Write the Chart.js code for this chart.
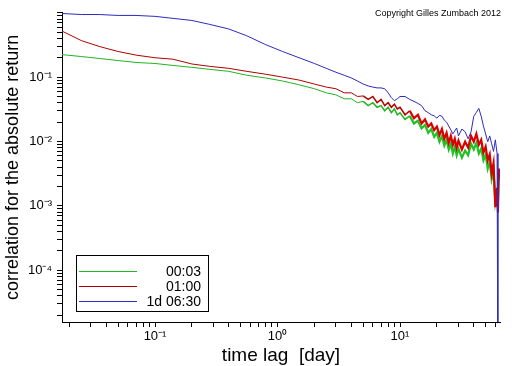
<!DOCTYPE html>
<html>
<head>
<meta charset="utf-8">
<script src="https://cdn.jsdelivr.net/npm/chart.js@4.4.0/dist/chart.umd.min.js"></script>
<style>
  html, body { margin:0; padding:0; background:#fff; }
  #wrap { width:512px; height:366px; }
</style>
</head>
<body>
<div id="wrap"><canvas id="c" width="512" height="366"></canvas></div>
<script>
// time lags in days (shared by the three series)
const lags = [0.0174, 0.025, 0.035, 0.05, 0.07, 0.1, 0.14, 0.2, 0.28, 0.4, 0.56, 0.8, 1.1, 1.5, 2, 2.5,
  3, 3.5, 4, 4.5, 5, 5.5, 6, 6.5, 7, 7.5, 8, 8.5, 9, 9.5, 10,
  11, 12, 13, 14, 15, 16, 17, 18, 19, 20,
  21, 22, 23, 24, 25, 26, 27, 28, 29, 30,
  32, 34, 36, 38, 40, 42, 44, 46, 48, 50, 52, 54, 56, 58, 60, 62, 63, 64, 65];

// correlation of |r| for the three return horizons
const corr0003 = [0.224, 0.209, 0.195, 0.181, 0.169, 0.163, 0.152, 0.142, 0.132, 0.123, 0.107, 0.097, 0.087, 0.076, 0.066, 0.057,
  0.053, 0.046, 0.046, 0.040, 0.042, 0.036, 0.040, 0.034, 0.036, 0.030, 0.034, 0.028, 0.032, 0.026, 0.028,
  0.022, 0.025, 0.019, 0.021, 0.016, 0.018, 0.0136, 0.0156, 0.0118, 0.0136,
  0.0099, 0.0122, 0.0086, 0.0106, 0.0075, 0.0092, 0.0065, 0.0083, 0.0061, 0.0077,
  0.0056, 0.0072, 0.0061, 0.0092, 0.0075, 0.0095, 0.0065, 0.0077, 0.0051, 0.0063, 0.0038, 0.0049, 0.0026, 0.0035, 0.00113, 0.0016, 0.00113, 0.0032, 0.0024];
const corr0100 = [0.52, 0.37, 0.30, 0.25, 0.22, 0.20, 0.19, 0.16, 0.147, 0.137, 0.123, 0.111, 0.100, 0.090, 0.078, 0.070,
  0.066, 0.057, 0.057, 0.050, 0.051, 0.045, 0.050, 0.040, 0.045, 0.036, 0.040, 0.034, 0.038, 0.032, 0.034,
  0.026, 0.030, 0.023, 0.026, 0.019, 0.022, 0.017, 0.019, 0.015, 0.017,
  0.0126, 0.0156, 0.0110, 0.0136, 0.0095, 0.0122, 0.0089, 0.0110, 0.0080, 0.0103,
  0.0075, 0.0099, 0.0080, 0.0122, 0.0099, 0.0131, 0.0089, 0.0106, 0.0067, 0.0083, 0.0051, 0.0063, 0.0032, 0.0046, 0.00095, 0.0019, 0.00079, 0.0038, 0.0027];
const corr1d0630 = [0.975, 0.94, 0.94, 0.91, 0.91, 0.88, 0.82, 0.76, 0.66, 0.56, 0.44, 0.32, 0.25, 0.20, 0.163, 0.137,
  0.119, 0.107, 0.097, 0.087, 0.078, 0.073, 0.070, 0.068, 0.068, 0.066, 0.057, 0.048, 0.043, 0.046, 0.050,
  0.050, 0.045, 0.042, 0.039, 0.036, 0.030, 0.028, 0.026, 0.025, 0.023,
  0.0255, 0.0246, 0.0214, 0.0199, 0.0173, 0.0151, 0.0131, 0.0146, 0.0162, 0.0122,
  0.0156, 0.0141, 0.0110, 0.0141, 0.0246, 0.0283, 0.0326, 0.0246, 0.0173, 0.0131, 0.0099, 0.0122, 0.0092, 0.0070, 0.0106, 0.0065, 0.000001, null, null];

const seriesLabels = ['00:03', '01:00', '1d 06:30'];
const seriesColors = ['#22b422', '#b00000', '#2c2cbe'];
const noisyColors = ['#22c022', '#d80000', '#2c2cbe'];

const xMajor = [0.1, 1, 10];
const xTickLabels = ['10\u207B\u00B9', '10\u2070', '10\u00B9'];
const yMajor = [1e-4, 1e-3, 1e-2, 1e-1];
const yTickLabels = ['10\u207B\u2074', '10\u207B\u00B3', '10\u207B\u00B2', '10\u207B\u00B9'];

const xRange = [0.0174, 65.5];
const yRange = [1.56e-5, 1.0];

const FONT = '"Liberation Sans", Arial, sans-serif';

// 1..9 x 10^n positions for the log ticks
function logTicks(min, max){
  const out = [];
  for(let e = Math.floor(Math.log10(min)); e <= Math.ceil(Math.log10(max)); e++){
    for(let k = 1; k <= 9; k++){
      const v = k * Math.pow(10, e);
      if(v >= min*0.9999 && v <= max*1.0001) out.push(v);
    }
  }
  return out;
}
function labelFor(majors, labels){
  return function(value){
    const i = majors.findIndex(m => Math.abs(m - value) / m < 1e-6);
    return i >= 0 ? labels[i] : '';
  };
}

const series = [corr0003, corr0100, corr1d0630];
const datasets = series.map((arr, i) => ({
  label: seriesLabels[i],
  data: lags.map((x, j) => ({ x, y: arr[j] })),
  borderColor: seriesColors[i],
  borderWidth: 1,
  pointRadius: 0,
  tension: 0,
  fill: false,
  spanGaps: false,
  order: 3 - i,
  // the short-horizon curves get a dense noisy band at large lags
  segment: i < 2 ? {
    borderWidth: c => c.p0.parsed.x >= 12 ? 2.2 : (c.p0.parsed.x >= 5 ? 1.5 : 1),
    borderColor: c => c.p0.parsed.x >= 12 ? noisyColors[i] : seriesColors[i]
  } : undefined
}));

// boxed legend, text right aligned like the original
const boxLegend = {
  id: 'boxLegend',
  afterDraw(chart){
    const ctx = chart.ctx;
    ctx.save();
    ctx.fillStyle = '#fff';
    ctx.fillRect(76.5, 255.5, 132, 56);
    ctx.strokeStyle = '#000'; ctx.lineWidth = 1;
    ctx.strokeRect(76.5, 255.5, 132, 56);
    ctx.font = '14px ' + FONT;
    ctx.textAlign = 'right'; ctx.textBaseline = 'middle';
    chart.data.datasets.forEach((ds, i) => {
      const y = 271.5 + i * 15;
      ctx.strokeStyle = ds.borderColor;
      ctx.beginPath(); ctx.moveTo(79, y); ctx.lineTo(137, y); ctx.stroke();
      ctx.fillStyle = '#000';
      ctx.fillText(ds.label, 201, y + 1);
    });
    ctx.restore();
  }
};

const copyright = {
  id: 'copyright',
  afterDraw(chart){
    const ctx = chart.ctx;
    ctx.save();
    ctx.font = '9px ' + FONT;
    ctx.fillStyle = '#000';
    ctx.textAlign = 'right'; ctx.textBaseline = 'middle';
    ctx.fillText('Copyright Gilles Zumbach 2012', 501, 14);
    ctx.restore();
  }
};

new Chart(document.getElementById('c'), {
  type: 'line',
  data: { datasets },
  options: {
    responsive: false,
    animation: false,
    layout: { padding: { top: 6, right: 12, left: 0, bottom: 0 } },
    plugins: { legend: { display: false }, tooltip: { enabled: false } },
    scales: {
      x: {
        type: 'logarithmic',
        min: xRange[0], max: xRange[1],
        afterBuildTicks: s => { s.ticks = logTicks(xRange[0], xRange[1]).map(v => ({ value: v })); },
        afterFit: s => { s.height = 44; },
        border: { display: true, color: '#000', width: 1 },
        grid: { drawOnChartArea: false, drawTicks: true, tickLength: 5, color: '#000' },
        ticks: { autoSkip: false, maxRotation: 0, padding: 2, color: '#000', font: { family: FONT, size: 13 },
          callback: labelFor(xMajor, xTickLabels) },
        title: { display: true, text: 'time lag  [day]', color: '#000',
          font: { family: FONT, size: 19, lineHeight: 1 }, padding: { top: 0, bottom: 1 } }
      },
      y: {
        type: 'logarithmic',
        min: yRange[0], max: yRange[1],
        afterBuildTicks: s => { s.ticks = logTicks(yRange[0], yRange[1]).map(v => ({ value: v })); },
        afterFit: s => { s.width = 62; },
        border: { display: true, color: '#000', width: 1 },
        grid: { drawOnChartArea: false, drawTicks: true, tickLength: 5, color: '#000' },
        ticks: { autoSkip: false, padding: 5, color: '#000', font: { family: FONT, size: 13 },
          callback: labelFor(yMajor, yTickLabels) },
        title: { display: true, text: 'correlation for the absolute return', color: '#000',
          font: { family: FONT, size: 18, lineHeight: 1 }, padding: { top: 4, bottom: 0 } }
      }
    }
  },
  plugins: [boxLegend, copyright]
});
</script>
</body>
</html>
